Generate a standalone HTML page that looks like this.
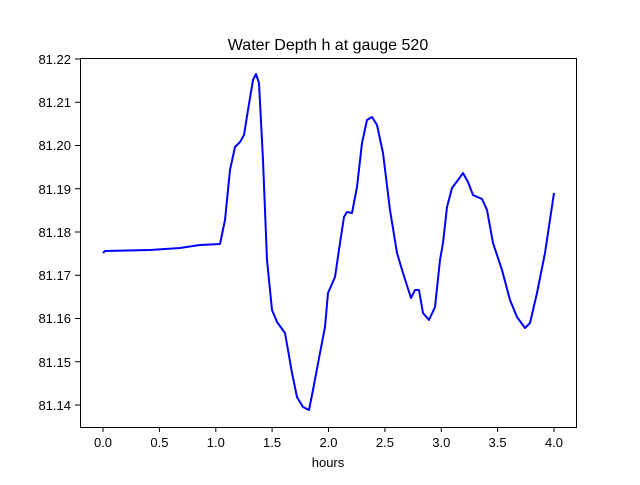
<!DOCTYPE html>
<html><head><style>body{margin:0;background:#fff}</style></head><body>
<svg width="640" height="480" xmlns="http://www.w3.org/2000/svg" font-family="Liberation Sans, DejaVu Sans, sans-serif">
<rect width="640" height="480" fill="#fff"/>
<polyline fill="none" stroke="#0000ff" stroke-width="2" stroke-linejoin="round" points="103,253 105,251 150,250 180,248 200,245 220,244 225,220 230,170 235,147 240,142 244,135 248,110 253,80 256,74 259,83 263,160 267,260 272,310 277,322 285,333 288,350 292,373 297,397 303,407 309,410 313,390 320,353 325,327 328,293 335,277 340,243 344,217 347,212 352,213 357,187 362,143 367,120 372,117 377,125 383,153 390,210 397,253 403,273 411,298 415,290 419,290 423,313 429,320 435,307 440,260 443,243 447,207 452,188 458,180 463,173 468,182 473,195 482,199 487,210 493,243 502,270 510,300 517,317 525,328 530,323 537,293 545,253 554,193"/>
<rect x="80.5" y="58.5" width="496" height="369" fill="none" stroke="#000" stroke-width="1"/>
<g stroke="#000" stroke-width="1">
<line x1="103" y1="427" x2="103" y2="432"/><line x1="159.4" y1="427" x2="159.4" y2="432"/><line x1="215.8" y1="427" x2="215.8" y2="432"/><line x1="272.1" y1="427" x2="272.1" y2="432"/><line x1="328.5" y1="427" x2="328.5" y2="432"/><line x1="384.9" y1="427" x2="384.9" y2="432"/><line x1="441.3" y1="427" x2="441.3" y2="432"/><line x1="497.6" y1="427" x2="497.6" y2="432"/><line x1="554" y1="427" x2="554" y2="432"/>
<line x1="75" y1="59" x2="80" y2="59"/><line x1="75" y1="102.25" x2="80" y2="102.25"/><line x1="75" y1="145.5" x2="80" y2="145.5"/><line x1="75" y1="188.75" x2="80" y2="188.75"/><line x1="75" y1="232" x2="80" y2="232"/><line x1="75" y1="275.25" x2="80" y2="275.25"/><line x1="75" y1="318.5" x2="80" y2="318.5"/><line x1="75" y1="361.75" x2="80" y2="361.75"/><line x1="75" y1="405" x2="80" y2="405"/>
</g>
<g font-size="13" text-anchor="middle" fill="#000">
<text x="103" y="447">0.0</text><text x="159.4" y="447">0.5</text><text x="215.8" y="447">1.0</text><text x="272.1" y="447">1.5</text><text x="328.5" y="447">2.0</text><text x="384.9" y="447">2.5</text><text x="441.3" y="447">3.0</text><text x="497.6" y="447">3.5</text><text x="554" y="447">4.0</text>
<text x="328" y="467">hours</text>
<text x="328" y="50" font-size="16">Water Depth h at gauge 520</text>
</g>
<g font-size="13" text-anchor="end" fill="#000">
<text x="71" y="64">81.22</text><text x="71" y="107">81.21</text><text x="71" y="150">81.20</text><text x="71" y="194">81.19</text><text x="71" y="237">81.18</text><text x="71" y="280">81.17</text><text x="71" y="323">81.16</text><text x="71" y="367">81.15</text><text x="71" y="410">81.14</text>
</g>
</svg>
</body></html>
